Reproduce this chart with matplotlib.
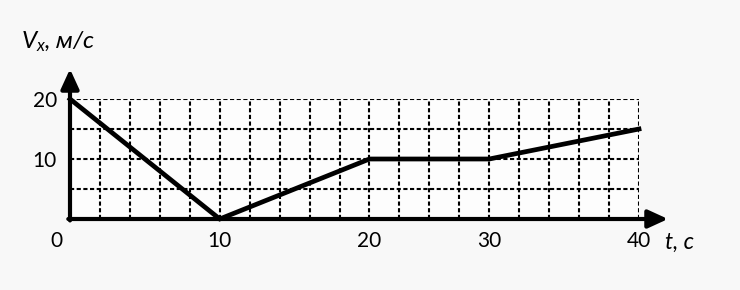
import numpy as np
import matplotlib
matplotlib.use('Agg')
import matplotlib.pyplot as plt
from matplotlib.ticker import FixedLocator, NullFormatter, NullLocator

# ---- data ----
t = [0, 10, 20, 30, 40]
vx = [20, 0, 10, 10, 15]
x_ticks = [10, 20, 30, 40]
x_tick_labels = ['10', '20', '30', '40']
y_ticks = [10, 20]
y_tick_labels = ['10', '20']
y_grid = [5, 10, 15, 20]

# ---- schematic (non-uniform) time axis, as drawn in the reference ----
KNOT_T = np.array([0, 10, 20, 30, 40], float)
KNOT_CELL = np.array([0, 5, 10, 14, 19], float)
N_CELLS = 19


def _pw(x, xs, ys):
    x = np.asarray(x, float)
    y = np.interp(x, xs, ys)
    s0 = (ys[1] - ys[0]) / (xs[1] - xs[0])
    s1 = (ys[-1] - ys[-2]) / (xs[-1] - xs[-2])
    y = np.where(x < xs[0], ys[0] + (x - xs[0]) * s0, y)
    y = np.where(x > xs[-1], ys[-1] + (x - xs[-1]) * s1, y)
    return y


def fwd(x):
    return _pw(x, KNOT_T, KNOT_CELL)


def inv(c):
    return _pw(c, KNOT_CELL, KNOT_T)


plt.rcParams['font.family'] = ['Lato', 'Open Sans', 'DejaVu Sans']
plt.rcParams['mathtext.fontset'] = 'custom'
plt.rcParams['mathtext.it'] = 'Lato:italic'
plt.rcParams['mathtext.rm'] = 'Lato'

W, H = 740, 290
fig = plt.figure(figsize=(W / 100, H / 100), dpi=100, facecolor='#f8f8f8')
ax = fig.add_axes([70 / W, (H - 219) / H, 569 / W, 120 / H])
ax.set_facecolor('#fdfdfd')
ax.set_xscale('function', functions=(fwd, inv))
ax.set_xlim(0, 40)
ax.set_ylim(0, 20)

for s in ax.spines.values():
    s.set_visible(False)

# grid
ax.xaxis.set_major_locator(NullLocator())
ax.xaxis.set_minor_locator(FixedLocator(inv(np.arange(1, N_CELLS + 1))))
ax.xaxis.set_minor_formatter(NullFormatter())
ax.yaxis.set_major_locator(NullLocator())
ax.yaxis.set_minor_locator(FixedLocator(y_grid))
ax.yaxis.set_minor_formatter(NullFormatter())
ax.tick_params(which='both', length=0)
ax.grid(which='minor', color='black', lw=1.5, ls=(0, (2.0, 1.2)))
ax.set_axisbelow(True)

# data line
ax.plot(t, vx, color='black', lw=3.4, solid_joinstyle='miter',
        clip_on=False, zorder=5)

# axes with arrows
ap = dict(arrowstyle='-|>,head_length=1.2,head_width=0.55', lw=3.0,
          color='black', shrinkA=0, shrinkB=0, mutation_scale=10)
ax.annotate('', xy=(598 / 569, 0), xytext=(-0.003, 0), xycoords='axes fraction',
            arrowprops=ap, annotation_clip=False, zorder=6)
ax.annotate('', xy=(0, 150 / 120), xytext=(0, -0.012), xycoords='axes fraction',
            arrowprops=ap, annotation_clip=False, zorder=6)

FS = 15
# tick labels
for xv, lab in zip(x_ticks, x_tick_labels):
    ax.annotate(lab, xy=(xv, 0), xytext=(0, -22), textcoords='offset pixels',
                ha='center', va='center', fontsize=FS, annotation_clip=False)
ax.annotate('0', xy=(0, 0), xytext=(-14, -22), textcoords='offset pixels',
            ha='center', va='center', fontsize=FS, annotation_clip=False)
for yv, lab in zip(y_ticks, y_tick_labels):
    ax.annotate(lab, xy=(0, yv), xytext=(-13, -2), textcoords='offset pixels',
                ha='right', va='center', fontsize=FS, annotation_clip=False)

# axis titles
ax.annotate('t, с', xy=(1, 0), xycoords='axes fraction', xytext=(26, -23),
            textcoords='offset pixels', ha='left', va='center', fontsize=16.5,
            style='italic', annotation_clip=False)
fig.text(21 / W, 1 - 48 / H, r'$V_{\mathregular{x}}$, м/с', fontsize=17.5,
         style='italic', va='baseline')

fig.savefig('out.png', dpi=100, facecolor=fig.get_facecolor())
